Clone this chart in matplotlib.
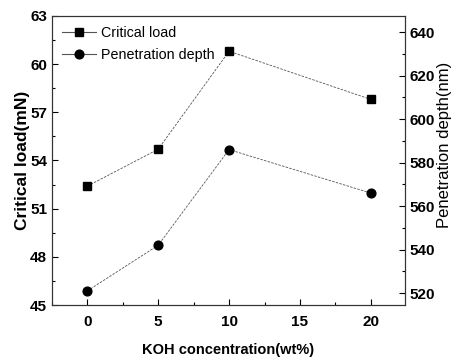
import matplotlib.pyplot as plt
from matplotlib.ticker import MultipleLocator
from matplotlib.lines import Line2D

koh = [0, 5, 10, 20]
critical_load = [52.4, 54.7, 60.8, 57.8]
penetration_depth = [521, 542, 586, 566]

plt.rcParams['font.family'] = ['Liberation Sans', 'DejaVu Sans']

fig = plt.figure(figsize=(4.59, 3.61), dpi=100)
ax = fig.add_axes([0.113, 0.155, 0.769, 0.801])
ax2 = ax.twinx()

ax.plot(koh, critical_load, color='#555555', lw=0.6, ls=(0, (3, 1.5)),
        marker='s', ms=6.3, mfc='black', mec='black')
ax2.plot(koh, penetration_depth, color='#555555', lw=0.6, ls=(0, (3, 1.5)),
         marker='o', ms=6.3, mfc='black', mec='black')

ax.set_xlim(-2.5, 22.4)
ax.set_ylim(45, 63)
ax2.set_ylim(514.5, 647.5)

ax.xaxis.set_major_locator(MultipleLocator(5))
ax.xaxis.set_minor_locator(MultipleLocator(2.5))
ax.yaxis.set_major_locator(MultipleLocator(3))
ax.yaxis.set_minor_locator(MultipleLocator(1.5))
ax2.yaxis.set_major_locator(MultipleLocator(20))
ax2.yaxis.set_minor_locator(MultipleLocator(10))

ax.tick_params(axis='both', which='major', direction='in', length=4, width=0.8,
               labelsize=11)
ax.tick_params(axis='x', which='major', pad=7)
ax.tick_params(axis='both', which='minor', direction='in', length=2, width=0.8)
ax.tick_params(axis='x', top=False, which='both')
ax2.tick_params(which='major', direction='in', length=4, width=0.8, labelsize=11)
ax2.tick_params(which='minor', direction='in', length=2, width=0.8)

for a in (ax, ax2):
    for lab in a.get_xticklabels() + a.get_yticklabels():
        lab.set_fontweight('bold')
    for s in a.spines.values():
        s.set_color('#333333')
        s.set_linewidth(0.8)

ax.set_xlabel('KOH concentration(wt%)', fontsize=10.5, fontweight='bold', labelpad=10)
ax.set_ylabel('Critical load(mN)', fontsize=12.5, fontweight='bold', labelpad=0)
ax2.set_ylabel('Penetration depth(nm)', fontsize=12, labelpad=2)
ax2.yaxis.set_label_coords(1.09, 0.555)

handles = [
    Line2D([], [], color='#555555', lw=0.8, marker='s', ms=6.3, mfc='black', mec='black'),
    Line2D([], [], color='#555555', lw=0.8, marker='o', ms=6.3, mfc='black', mec='black'),
]
ax.legend(handles, ['Critical load', 'Penetration depth'], loc='upper left',
          frameon=False, fontsize=10.3, handlelength=2.4, handletextpad=0.3,
          borderaxespad=0.3, labelspacing=0.55, borderpad=0.4)

fig.savefig('out.png', dpi=100)
